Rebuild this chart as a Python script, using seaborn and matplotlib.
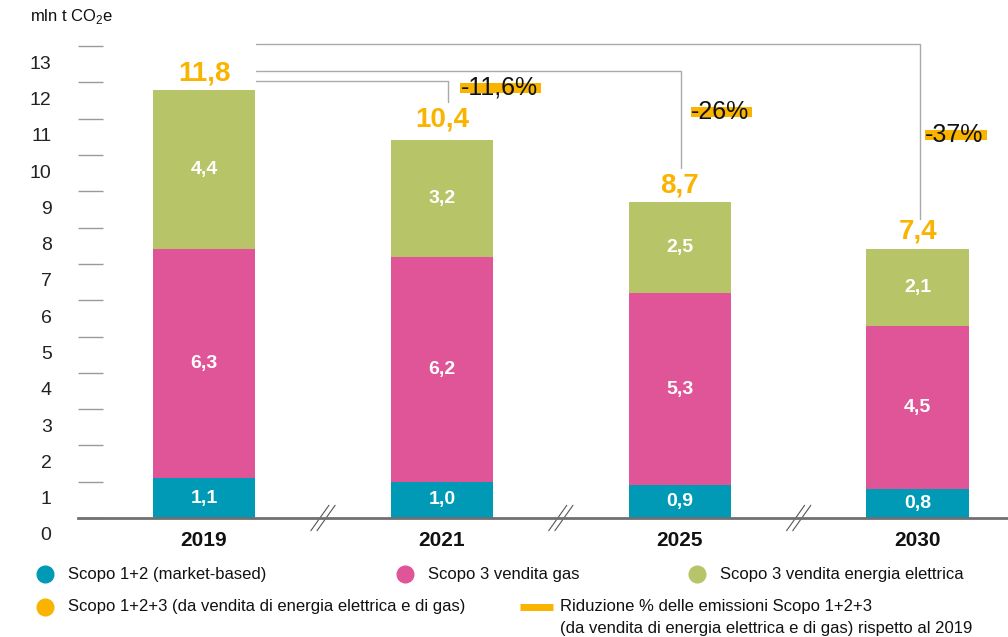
import numpy as np
import pandas as pd
import matplotlib.pyplot as plt
import seaborn as sns
from matplotlib.lines import Line2D
from matplotlib.patches import Rectangle
from matplotlib.transforms import ScaledTranslation

# Dati (mln t CO2e)
anni = ['2019', '2021', '2025', '2030']
scopo_12 = [1.1, 1.0, 0.9, 0.8]
scopo3_gas = [6.3, 6.2, 5.3, 4.5]
scopo3_ele = [4.4, 3.2, 2.5, 2.1]
totale = [11.8, 10.4, 8.7, 7.4]
riduzione = ['-11,6%', '-26%', '-37%']

c_teal = '#009ab6'
c_pink = '#df5598'
c_green = '#b8c468'
c_orange = '#fab400'

df = pd.DataFrame({'anno': anni, 's12': scopo_12, 'gas': scopo3_gas, 'ele': scopo3_ele})
df['cum_gas'] = df['s12'] + df['gas']
df['cum_ele'] = df['cum_gas'] + df['ele']

sns.set_theme(style='white')
plt.rcParams['font.family'] = ['Liberation Sans', 'DejaVu Sans']
plt.rcParams['mathtext.fontset'] = 'custom'
plt.rcParams['mathtext.rm'] = 'Liberation Sans'

fig = plt.figure(figsize=(10.08, 6.37), dpi=100)
ax = fig.add_axes([78 / 1008, 119 / 637, 930 / 1008, 518 / 637])

# barre impilate: totali cumulati dal piu' alto al piu' basso
for col, c in [('cum_ele', c_green), ('cum_gas', c_pink), ('s12', c_teal)]:
    sns.barplot(data=df, x='anno', y=col, color=c, width=0.43, saturation=1,
                linewidth=0, ax=ax)

ax.set_xlim(-0.53, 3.38)
ax.set_ylim(0, 14.27)
ax.set_xlabel('')
ax.set_ylabel('')

def fmt(v):
    return f'{v:.1f}'.replace('.', ',')

# etichette dei segmenti
for i in range(len(anni)):
    ax.text(i, df['s12'][i] / 2, fmt(scopo_12[i]), ha='center', va='center',
            color='white', fontsize=14, fontweight='bold')
    ax.text(i, df['s12'][i] + scopo3_gas[i] / 2, fmt(scopo3_gas[i]), ha='center',
            va='center', color='white', fontsize=14, fontweight='bold')
    ax.text(i, df['cum_gas'][i] + scopo3_ele[i] / 2, fmt(scopo3_ele[i]), ha='center',
            va='center', color='white', fontsize=14, fontweight='bold')

# totali
off_tot = [0.09, 0.22, 0.09, 0.14]
for i, t in enumerate(totale):
    ax.text(i, df['cum_ele'][i] + off_tot[i], fmt(t), ha='center', va='bottom',
            color=c_orange, fontsize=20, fontweight='bold')

# assi
ax.set_yticks(range(14))
ax.set_yticklabels([str(k) for k in range(14)], fontsize=14, color='#222')
ax.tick_params(axis='y', direction='in', length=18, width=1, color='#9a9a9a', pad=19, left=True)
shift = ScaledTranslation(0, -0.16, fig.dpi_scale_trans)
for lab in ax.get_yticklabels():
    lab.set_transform(lab.get_transform() + shift)
ax.tick_params(axis='x', length=0, pad=9)
for lab in ax.get_xticklabels():
    lab.set_fontsize(15)
    lab.set_fontweight('bold')
    lab.set_color('#111')
for s in ['left', 'top', 'right']:
    ax.spines[s].set_visible(False)
ax.spines['bottom'].set_color('#707070')
ax.spines['bottom'].set_linewidth(2)
ax.grid(False)

# interruzioni dell'asse
for xb in [0.5, 1.5, 2.5]:
    for dx in [-0.013, 0.013]:
        ax.plot([xb + dx - 0.038, xb + dx + 0.038], [-0.35, 0.35], color='#555',
                lw=0.8, clip_on=False)

# linee di collegamento verso la riduzione
x0 = 0.218
for xc, yh, yv in [(3.01, 13.06, 8.24), (2.005, 12.32, 9.64), (1.025, 12.03, 11.46)]:
    ax.plot([x0, xc, xc], [yh, yh, yv], color='#aaaaaa', lw=1, zorder=1)

pct_pos = [(1.24, 11.85), (2.17, 11.18), (3.155, 10.55)]
pct_txt = []
for (px, py), s in zip(pct_pos, riduzione):
    pct_txt.append(ax.text(px, py, s, ha='center', va='center', fontsize=18,
                           color='#111', zorder=6))

fig.text(30 / 1008, 1 - 17 / 637, 'mln t CO$_\\mathregular{2}$e', fontsize=12,
         va='center', ha='left', color='#111')

# legenda
def fx(p):
    return p / 1008

def fy(p):
    return 1 - p / 637

items = [(45, 574, c_teal, 'Scopo 1+2 (market-based)'),
         (405, 574, c_pink, 'Scopo 3 vendita gas'),
         (697, 574, c_green, 'Scopo 3 vendita energia elettrica'),
         (45, 607, c_orange, 'Scopo 1+2+3 (da vendita di energia elettrica e di gas)')]
for x, y, c, t in items:
    fig.add_artist(Line2D([fx(x)], [fy(y)], marker='o', markersize=12, color=c,
                          linestyle='none', transform=fig.transFigure))
    fig.text(fx(x + 23), fy(y), t, fontsize=12, va='center', ha='left', color='#111')
fig.add_artist(Line2D([fx(520), fx(553)], [fy(607), fy(607)], lw=5, color=c_orange,
                      solid_capstyle='butt', transform=fig.transFigure))
fig.text(fx(560), fy(607), 'Riduzione % delle emissioni Scopo 1+2+3', fontsize=12,
         va='center', ha='left', color='#111')
fig.text(fx(560), fy(629), '(da vendita di energia elettrica e di gas) rispetto al 2019',
         fontsize=12, va='center', ha='left', color='#111')

# evidenziatore arancione sotto le percentuali
fig.canvas.draw()
inv = fig.transFigure.inverted()
for t in pct_txt:
    bb = t.get_window_extent()
    (a0, b0) = inv.transform((bb.x0, bb.y0 + 0.30 * bb.height))
    (a1, b1) = inv.transform((bb.x1 + 3, bb.y0 + 0.72 * bb.height))
    ax.add_patch(Rectangle((a0, b0), a1 - a0, b1 - b0, facecolor=c_orange, lw=0,
                           transform=fig.transFigure, zorder=4, clip_on=False))

fig.savefig('out.png', dpi=100)
